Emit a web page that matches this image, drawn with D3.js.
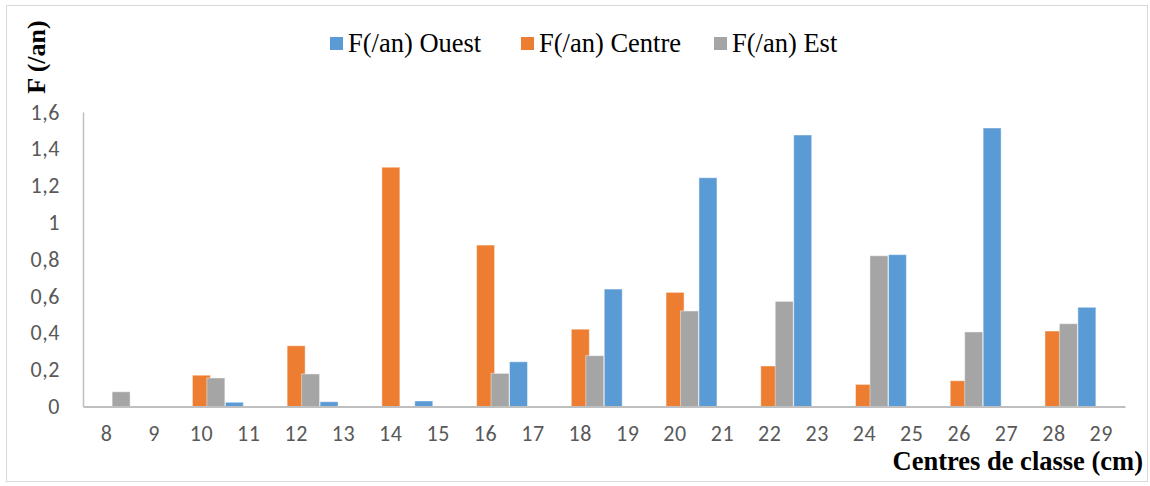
<!DOCTYPE html>
<html>
<head>
<meta charset="utf-8">
<script src="https://cdn.jsdelivr.net/npm/d3@7/dist/d3.min.js"></script>
<style>
  html, body { margin: 0; padding: 0; background: #fff; }
  svg { display: block; }
</style>
</head>
<body>
<svg id="chart" width="1150" height="486"></svg>
<script>
// Class centres (cm)
const categories = [8, 9, 10, 11, 12, 13, 14, 15, 16, 17, 18, 19, 20, 21, 22, 23, 24, 25, 26, 27, 28, 29];

// Annual frequency per site
const ouest  = [0, 0, 0, 0.023, 0, 0.026, 0, 0.03, 0, 0.243, 0, 0.638, 0, 1.243, 0, 1.475, 0, 0.825, 0, 1.513, 0, 0.539];
const centre = [0, 0, 0.17, 0, 0.33, 0, 1.30, 0, 0.877, 0, 0.42, 0, 0.62, 0, 0.22, 0, 0.12, 0, 0.14, 0, 0.41, 0];
const est    = [0.08, 0, 0.155, 0, 0.177, 0, 0, 0, 0.18, 0, 0.276, 0, 0.519, 0, 0.571, 0, 0.819, 0, 0.405, 0, 0.45, 0];

const seriesNames = ["F(/an) Ouest", "F(/an) Centre", "F(/an) Est"];
const seriesValues = [ouest, centre, est];
const seriesColors = ["#5B9BD5", "#ED7D31", "#A5A5A5"];

const yTicks = [0, 0.2, 0.4, 0.6, 0.8, 1.0, 1.2, 1.4, 1.6];

const svg = d3.select("#chart");

// outer chart frame
svg.append("rect")
  .attr("x", 6.5).attr("y", 5.5)
  .attr("width", 1141).attr("height", 476)
  .attr("fill", "none").attr("stroke", "#D9D9D9").attr("stroke-width", 1);

const plot = { left: 83, right: 1125, top: 112, bottom: 406.5 };

const x = d3.scaleBand().domain(categories).range([plot.left, plot.right]).padding(0);
const y = d3.scaleLinear().domain([0, 1.6]).range([plot.bottom, plot.top]);

const bw = x.bandwidth();
const barW = bw * 0.38;
const step = bw * 0.305;

const locale = d3.formatLocale({ decimal: ",", thousands: " ", grouping: [3], currency: ["", " €"] });
const fmt = locale.format("~g");

// bars: three series per class, series offsets -step, 0, +step
seriesValues.forEach((vals, si) => {
  const rows = categories.map((c, i) => ({ c, v: vals[i] })).filter(d => d.v > 0);
  svg.append("g")
    .selectAll("rect")
    .data(rows)
    .join("rect")
    .attr("x", d => x(d.c) + bw / 2 + (si - 1) * step - barW / 2)
    .attr("y", d => y(d.v))
    .attr("width", barW)
    .attr("height", d => y(0) - y(d.v))
    .attr("fill", seriesColors[si])
    .attr("stroke", "rgba(255,255,255,0.45)")
    .attr("stroke-width", 1);
});

const tickFont = "Carlito, Calibri, Lato, sans-serif";

// y axis
const yAxis = svg.append("g")
  .attr("transform", `translate(${plot.left},0)`)
  .call(d3.axisLeft(y).tickValues(yTicks).tickFormat(fmt).tickSize(0).tickPadding(23));
yAxis.select(".domain").attr("stroke", "#BFBFBF").attr("stroke-width", 1.5);
yAxis.selectAll("text")
  .attr("fill", "#595959")
  .style("font-family", tickFont)
  .style("font-size", "22px")
  .style("letter-spacing", "0.6px");

// x axis
const xAxis = svg.append("g")
  .attr("transform", `translate(0,${plot.bottom})`)
  .call(d3.axisBottom(x).tickSize(0).tickPadding(19));
xAxis.select(".domain").attr("stroke", "#BFBFBF").attr("stroke-width", 2);
xAxis.selectAll("text")
  .attr("fill", "#595959")
  .style("font-family", tickFont)
  .style("font-size", "22px")
  .style("letter-spacing", "0.6px");

// axis titles
svg.append("text")
  .attr("transform", "translate(45,57) rotate(-90)")
  .attr("text-anchor", "middle")
  .style("font-family", "'Liberation Serif', 'Times New Roman', serif")
  .style("font-weight", "bold")
  .style("font-size", "26px")
  .attr("fill", "#000")
  .text("F (/an)");

svg.append("text")
  .attr("x", 1143).attr("y", 470)
  .attr("text-anchor", "end")
  .style("font-family", "'Liberation Serif', 'Times New Roman', serif")
  .style("font-weight", "bold")
  .style("font-size", "26.5px")
  .attr("fill", "#000")
  .text("Centres de classe (cm)");

// legend
const legendX = [330, 521, 714];
const legend = svg.append("g");
seriesNames.forEach((name, i) => {
  const g = legend.append("g").attr("transform", `translate(${legendX[i]},37)`);
  g.append("rect").attr("width", 13).attr("height", 13).attr("fill", seriesColors[i]);
  g.append("text")
    .attr("x", 18).attr("y", 15)
    .style("font-family", "'Liberation Serif', 'Times New Roman', serif")
    .style("font-size", "26.5px")
    .attr("fill", "#000")
    .text(name);
});
</script>
</body>
</html>
